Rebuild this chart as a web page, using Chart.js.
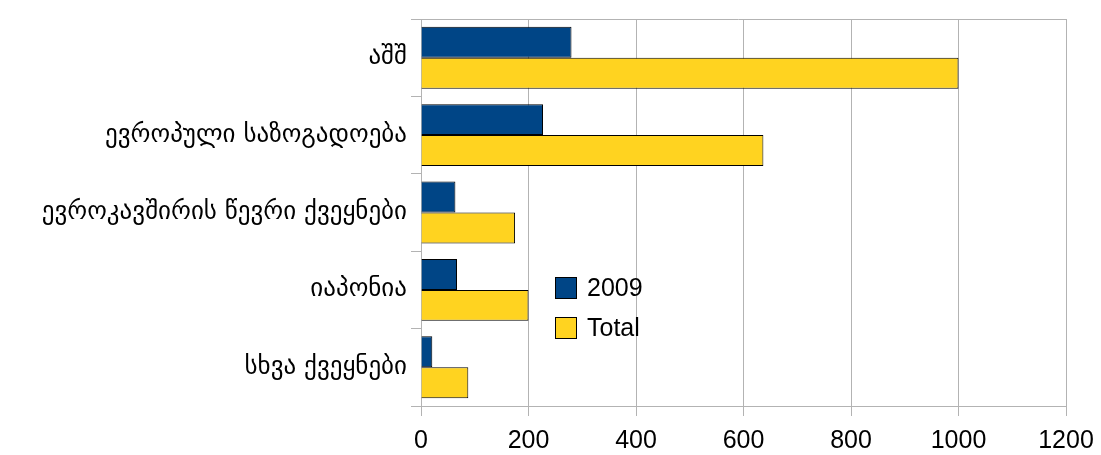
<!DOCTYPE html>
<html>
<head>
<meta charset="utf-8">
<script src="https://cdn.jsdelivr.net/npm/chart.js@4/dist/chart.umd.min.js"></script>
<style>
  html, body { margin: 0; padding: 0; background: #fff; }
  #wrap { width: 1101px; height: 455px; }
</style>
</head>
<body>
<div id="wrap"><canvas id="myChart" width="1101" height="455"></canvas></div>
<script>
const countries = ["აშშ", "ევროპული საზოგადოება", "ევროკავშირის წევრი ქვეყნები", "იაპონია", "სხვა ქვეყნები"];
const values2009 = [280, 227, 64, 67, 21];
const valuesTotal = [1000, 637, 175, 200, 88];
const xTicks = [0, 200, 400, 600, 800, 1000, 1200];

const gridGray = "#b3b3b3";

// legend drawn inside the plot, like the original
const innerLegend = {
  id: "innerLegend",
  afterDraw(chart) {
    const ctx = chart.ctx;
    ctx.save();
    // top frame line
    ctx.strokeStyle = gridGray;
    ctx.lineWidth = 1;
    ctx.beginPath();
    ctx.moveTo(chart.chartArea.left - 10, chart.chartArea.top + 0.5);
    ctx.lineTo(chart.chartArea.right, chart.chartArea.top + 0.5);
    ctx.stroke();

    let y = 277;
    chart.data.datasets.forEach((ds) => {
      ctx.fillStyle = ds.backgroundColor;
      ctx.fillRect(555, y, 22, 22);
      ctx.strokeStyle = "#000";
      ctx.strokeRect(555.5, y + 0.5, 21, 21);
      ctx.fillStyle = "#000";
      ctx.font = "25px 'Liberation Sans', Arial, sans-serif";
      ctx.textBaseline = "middle";
      ctx.fillText(ds.label, 587, y + 12);
      y += 40;
    });
    ctx.restore();
  },
};

const ctx = document.getElementById("myChart");
new Chart(ctx, {
  type: "bar",
  data: {
    labels: countries,
    datasets: [
      {
        label: "2009",
        data: values2009,
        backgroundColor: "#004586",
        borderColor: "#000",
        borderWidth: 1,
      },
      {
        label: "Total",
        data: valuesTotal,
        backgroundColor: "#ffd320",
        borderColor: "#000",
        borderWidth: 1,
      },
    ],
  },
  options: {
    indexAxis: "y",
    responsive: false,
    animation: false,
    layout: { padding: { top: 14, right: 35, left: 0, bottom: 0 } },
    plugins: {
      legend: { display: false },
      tooltip: { enabled: false },
    },
    datasets: {
      bar: { barPercentage: 1.0, categoryPercentage: 0.8 },
    },
    scales: {
      x: {
        min: 0,
        max: 1200,
        afterBuildTicks: (scale) => {
          scale.ticks = xTicks.map((v) => ({ value: v }));
        },
        grid: { color: gridGray, tickLength: 10 },
        border: { color: gridGray },
        ticks: {
          color: "#000",
          padding: 10,
          font: { family: "'Liberation Sans', Arial, sans-serif", size: 25 },
          callback: (v) => String(v),
        },
        afterFit: (scale) => {
          scale.height = 49;
          scale.paddingRight = 0;
          scale.paddingLeft = 0;
        },
      },
      y: {
        grid: { color: gridGray, drawOnChartArea: false, tickLength: 10, offset: true },
        border: { color: gridGray },
        ticks: {
          color: "#000",
          padding: 4,
          font: { family: "'DejaVu Sans', sans-serif", size: 25 },
        },
        afterFit: (scale) => {
          scale.width = 421;
        },
      },
    },
  },
  plugins: [innerLegend],
});
</script>
</body>
</html>
